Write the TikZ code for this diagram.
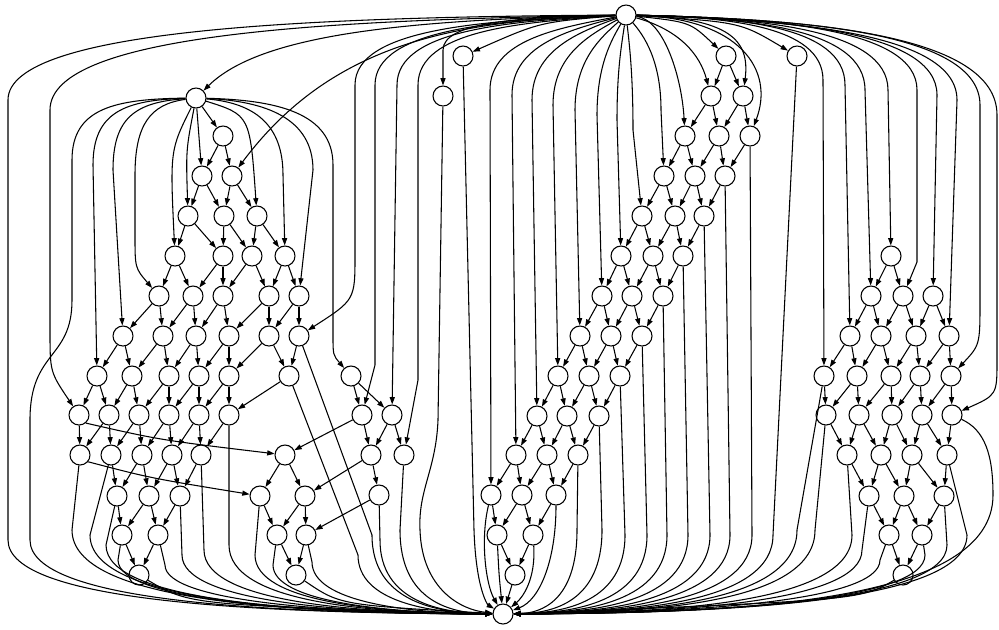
\documentclass[tikz,border=0pt]{standalone}
\usetikzlibrary{arrows.meta}
\newcommand{\tob}[3]{\draw[e] (#1) -- (#2,#3) .. controls (#2,602) and ({(#2+503)/2},613) .. (B);}
\newcommand{\tln}[5]{\draw[e] (T) .. controls ({(626+#1)/2},#2) and (#1,#3) .. (#1,#4) -- (#5);}
\begin{document}
\begin{tikzpicture}[x=0.75pt,y=-0.75pt,
  v/.style={circle,draw,line width=0.8pt,minimum size=15pt,inner sep=0pt},
  e/.style={line width=0.8pt,-{Triangle[length=5.5pt,width=3.8pt]}}]
\useasboundingbox (0,0) rectangle (999,629);
% nodes
\node[v] (T) at (626,15) {};
\node[v] (B) at (503,614) {};
\node[v] (L) at (196,98) {};
\node[v] (p1) at (463,56) {};
\node[v] (p2) at (443,96) {};
\node[v] (u1) at (797,56) {};
\foreach \n/\x/\y in {l3a/223/136, l4a/202/176, l4b/232/176,
  l5a/188/216, l5b/224/216, l5c/257/216,
  l6a/175/256, l6b/223/256, l6c/252/256, l6d/285/256,
  l7a/159/296, l7b/193/296, l7c/223/296, l7d/269/296, l7e/299/296,
  l8a/123/336, l8b/163/336, l8c/196/336, l8d/229/336, l8e/269/336, l8f/299/336,
  l9a/97/376, l9b/132/376, l9c/169/376, l9d/199/376, l9e/229/376, l9f/289/376,
  l10a/79/415, l10b/109/415, l10c/139/415, l10d/169/415, l10e/199/415, l10f/229/415,
  l11a/80/455, l11b/111/455, l11c/142/455, l11d/172/455, l11e/201/455,
  l12a/117/496, l12b/149/496, l12c/180/496,
  l13a/122/535, l13b/158/535, l14a/139/575,
  s9/351/376, s10a/362/415, s10b/392/415, s11a/371/455, s11b/404/455, s12/379/495,
  q11/285/455, q12a/260/496, q12b/305/496, q13a/277/535, q13b/306/535, q14/296/575,
  m1/726/56, m2a/711/96, m2b/743/96, m3a/685/136, m3b/719/136, m3c/750/136,
  m4a/664/176, m4b/695/176, m4c/725/176,
  m5a/642/216, m5b/675/216, m5c/704/216,
  m6a/621/256, m6b/653/256, m6c/683/256,
  m7a/602/296, m7b/632/296, m7c/663/296,
  m8a/580/336, m8b/611/336, m8c/642/336,
  m9a/558/376, m9b/589/376, m9c/620/376,
  m10a/537/416, m10b/567/416, m10c/599/416,
  m11a/516/455, m11b/547/455, m11c/578/455,
  m12a/491/495, m12b/522/495, m12c/556/495,
  m13a/497/535, m13b/533/535, m14/515/575,
  r6/891/256, r7a/871/296, r7b/903/296, r7c/933/296,
  r8a/850/336, r8b/881/336, r8c/916/336, r8d/949/336,
  r9a/824/376, r9b/857/376, r9c/891/376, r9d/920/376, r9e/951/376,
  r10a/826/415, r10b/859/415, r10c/892/415, r10d/922/415, r10e/952/415,
  r11a/847/455, r11b/881/455, r11c/912/455, r11d/947/455,
  r12a/869/496, r12b/904/496, r12c/944/496,
  r13a/889/535, r13b/922/535, r14/903/575}
  \node[v] (\n) at (\x,\y) {};
% short lattice edges
\foreach \a/\b in {L/l3a, L/l4a, l3a/l4a, l3a/l4b,
  l4a/l5a, l4a/l5b, l4b/l5b, l4b/l5c,
  l5a/l6a, l5a/l6b, l5b/l6b, l5b/l6c, l5c/l6c, l5c/l6d,
  l6a/l7a, l6a/l7b, l6b/l7b, l6b/l7c, l6c/l7c, l6c/l7d, l6d/l7d, l6d/l7e,
  l7a/l8a, l7a/l8b, l7b/l8b, l7b/l8c, l7c/l8c, l7c/l8d, l7d/l8d, l7d/l8e, l7e/l8e, l7e/l8f,
  l8a/l9a, l8a/l9b, l8b/l9b, l8b/l9c, l8c/l9c, l8c/l9d, l8d/l9d, l8d/l9e, l8e/l9e, l8e/l9f, l8f/l9f,
  l9a/l10a, l9a/l10b, l9b/l10b, l9b/l10c, l9c/l10c, l9c/l10d, l9d/l10d, l9d/l10e, l9e/l10e, l9e/l10f, l9f/l10f,
  l10a/l11a, l10b/l11a, l10b/l11b, l10c/l11b, l10c/l11c, l10d/l11c, l10d/l11d, l10e/l11d, l10e/l11e, l10f/l11e,
  l11b/l12a, l11c/l12a, l11c/l12b, l11d/l12b, l11d/l12c, l11e/l12c,
  l12a/l13a, l12b/l13a, l12b/l13b, l12c/l13b, l13a/l14a, l13b/l14a,
  s9/s10a, s9/s10b, s10a/s11a, s10b/s11a, s10b/s11b, s11a/s12,
  q11/q12a, q11/q12b, q12a/q13a, q12b/q13a, q12b/q13b, q13a/q14, q13b/q14,
  s10a/q11, s11a/q12b, s12/q13b,
  m1/m2a, m1/m2b, m2a/m3a, m2a/m3b, m2b/m3b, m2b/m3c,
  m3a/m4a, m3a/m4b, m3b/m4b, m3b/m4c, m3c/m4c,
  m4a/m5a, m4a/m5b, m4b/m5b, m4b/m5c, m4c/m5c,
  m5a/m6a, m5a/m6b, m5b/m6b, m5b/m6c, m5c/m6c,
  m6a/m7a, m6a/m7b, m6b/m7b, m6b/m7c, m6c/m7c,
  m7a/m8a, m7a/m8b, m7b/m8b, m7b/m8c, m7c/m8c,
  m8a/m9a, m8a/m9b, m8b/m9b, m8b/m9c, m8c/m9c,
  m9a/m10a, m9a/m10b, m9b/m10b, m9b/m10c, m9c/m10c,
  m10a/m11a, m10a/m11b, m10b/m11b, m10b/m11c, m10c/m11c,
  m11a/m12a, m11a/m12b, m11b/m12b, m11b/m12c, m11c/m12c,
  m12a/m13a, m12b/m13a, m12b/m13b, m12c/m13b, m13a/m14, m13b/m14, m14/B,
  r6/r7a, r6/r7b,
  r7a/r8a, r7a/r8b, r7b/r8b, r7b/r8c, r7c/r8c, r7c/r8d,
  r8a/r9a, r8a/r9b, r8b/r9b, r8b/r9c, r8c/r9c, r8c/r9d, r8d/r9d, r8d/r9e,
  r9a/r10a, r9b/r10a, r9b/r10b, r9c/r10b, r9c/r10c, r9d/r10c, r9d/r10d, r9e/r10d, r9e/r10e,
  r10a/r11a, r10b/r11a, r10b/r11b, r10c/r11b, r10c/r11c, r10d/r11c, r10d/r11d, r10e/r11d,
  r11a/r12a, r11b/r12a, r11b/r12b, r11c/r12b, r11c/r12c, r11d/r12c,
  r12a/r13a, r12b/r13a, r12b/r13b, r12c/r13b, r13a/r14, r13b/r14}
  \draw[e] (\a) -- (\b);
\draw[e] (l10a.-50) .. controls (160,440) .. (q11);
\draw[e] (l11a.-40) .. controls (150,478) .. (q12a);
% edges from T
\tln{490}{28}{40}{90}{m12a}
\tln{512}{30}{45}{95}{m11a}
\tln{532}{32}{50}{100}{m10a}
\tln{553}{35}{55}{105}{m9a}
\tln{575}{38}{60}{110}{m8a}
\tln{597}{40}{65}{115}{m7a}
\tln{617}{45}{70}{120}{m6a}
\tln{633}{45}{75}{130}{m5a}
\tln{661}{35}{60}{110}{m4a}
\tln{397}{21}{29}{85}{s10b}
\tln{823}{17}{25}{80}{r9a}
\tln{845}{17}{25}{85}{r8a}
\tln{865}{18}{27}{90}{r7a}
\tln{888}{18}{28}{90}{r6}
\tln{937}{19}{30}{95}{r7c}
\tln{957}{20}{32}{100}{r8d}
\draw[e] (T) .. controls (522,22) and (418,30) .. (418,85) -- (418,380) -- (s11b);
\draw[e] (T) .. controls (500,20) and (375,28) .. (375,85) -- (375,365) -- (s10a);
\draw[e] (T) .. controls (490,20) and (355,27) .. (355,85) -- (355,255) .. controls (355,300) .. (l8f);
\draw[e] (T) .. controls (772,18) and (917,28) .. (917,90) -- (917,262) -- (r7b);
\draw[e] (T) .. controls (803,19) and (980,32) .. (980,105) -- (980,300) .. controls (980,345) .. (r9e);
\draw[e] (T) .. controls (811,19) and (997,34) .. (997,115) -- (997,360) .. controls (997,395) .. (r10e);
\draw[e] (T) .. controls (317,17) and (8,28) .. (8,100) -- (8,540) .. controls (8,602) and (255,613) .. (B);
\draw[e] (T) .. controls (338,20) and (50,32) .. (50,110) -- (50,330) .. controls (50,372) .. (l10a);
\draw[e] (T) .. controls (400,20) and (260,35) .. (L);
\draw[e] (T) .. controls (450,20) and (330,45) .. (l4b);
\draw[e] (T) .. controls (520,17) and (443,22) .. (443,50) -- (p2);
\draw[e] (T) .. controls (540,22) .. (p1);
\draw[e] (T) .. controls (690,22) .. (m1);
\draw[e] (T) .. controls (680,30) and (700,55) .. (m2a);
\draw[e] (T) .. controls (730,18) and (750,40) .. (m2b);
\draw[e] (T) .. controls (665,20) and (682,80) .. (m3a);
\draw[e] (T) .. controls (740,18) and (775,70) .. (m3c);
\draw[e] (T) .. controls (740,22) .. (u1);
% edges from L
\draw[e] (L) .. controls (186,150) .. (l5a);
\draw[e] (L) .. controls (170,150) .. (l6a);
\draw[e] (L) .. controls (150,104) and (135,125) .. (135,175) -- (135,235) .. controls (135,268) .. (l7a);
\draw[e] (L) .. controls (135,102) and (113,118) .. (113,170) -- (l8a);
\draw[e] (L) .. controls (125,100) and (93,112) .. (93,165) -- (l9a);
\draw[e] (L) .. controls (115,99) and (72,108) .. (72,160) -- (72,300) .. controls (72,360) and (30,350) .. (30,420) -- (30,540) .. controls (30,602) and (266,613) .. (B);
\draw[e] (L) .. controls (250,115) .. (l5c);
\draw[e] (L) .. controls (255,103) and (283,125) .. (283,175) -- (l6d);
\draw[e] (L) .. controls (265,101) and (313,118) .. (313,170) -- (l7e);
\draw[e] (L) .. controls (275,100) and (333,112) .. (333,165) -- (333,335) .. controls (333,355) .. (s9);
% edges into B
\tob{l11a}{72}{530}
\tob{l11b}{90}{535}
\tob{l12a}{106}{545}
\tob{l13a}{118}{560}
\tob{l13b}{165}{565}
\tob{l12c}{182}{555}
\tob{l11e}{204}{550}
\tob{l10f}{229}{545}
\tob{q12a}{255}{555}
\tob{q13a}{273}{565}
\tob{q13b}{312}{562}
\tob{l9f}{358}{555}
\tob{l8f}{372}{535}
\tob{s12}{380}{540}
\tob{s11b}{400}{530}
\draw[e] (l14a) .. controls (190,605) .. (B);
\draw[e] (q14) .. controls (340,605) .. (B);
\draw[e] (p2) -- (438,420) .. controls (436,470) and (418,490) .. (420,530) .. controls (422,590) and (462,610) .. (B);
\draw[e] (p1) -- (474,530) .. controls (476,590) and (488,605) .. (B);
\draw[e] (m12a) .. controls (480,540) and (486,585) .. (B);
\draw[e] (m13a) .. controls (499,575) .. (B);
\draw[e] (m13b) .. controls (536,580) and (522,598) .. (B);
\draw[e] (m12c) .. controls (556,560) and (540,600) .. (B);
\tob{m11c}{577}{530}
\tob{m10c}{602}{530}
\tob{m9c}{625}{535}
\tob{m8c}{647}{535}
\tob{m7c}{667}{535}
\tob{m6c}{688}{535}
\tob{m5c}{710}{535}
\tob{m4c}{730}{535}
\tob{m3c}{752}{535}
\tob{u1}{773}{535}
\tob{r9a}{797}{530}
\tob{r10a}{815}{530}
\tob{r11a}{852}{535}
\tob{r12a}{862}{550}
\tob{r13a}{880}{560}
\draw[e] (r14) .. controls (860,600) .. (B);
\tob{r13b}{925}{555}
\tob{r12c}{947}{545}
\tob{r11d}{967}{535}
\draw[e] (r10e) .. controls (985,430) and (993,455) .. (993,495) .. controls (993,602) and (748,613) .. (B);
\end{tikzpicture}
\end{document}
